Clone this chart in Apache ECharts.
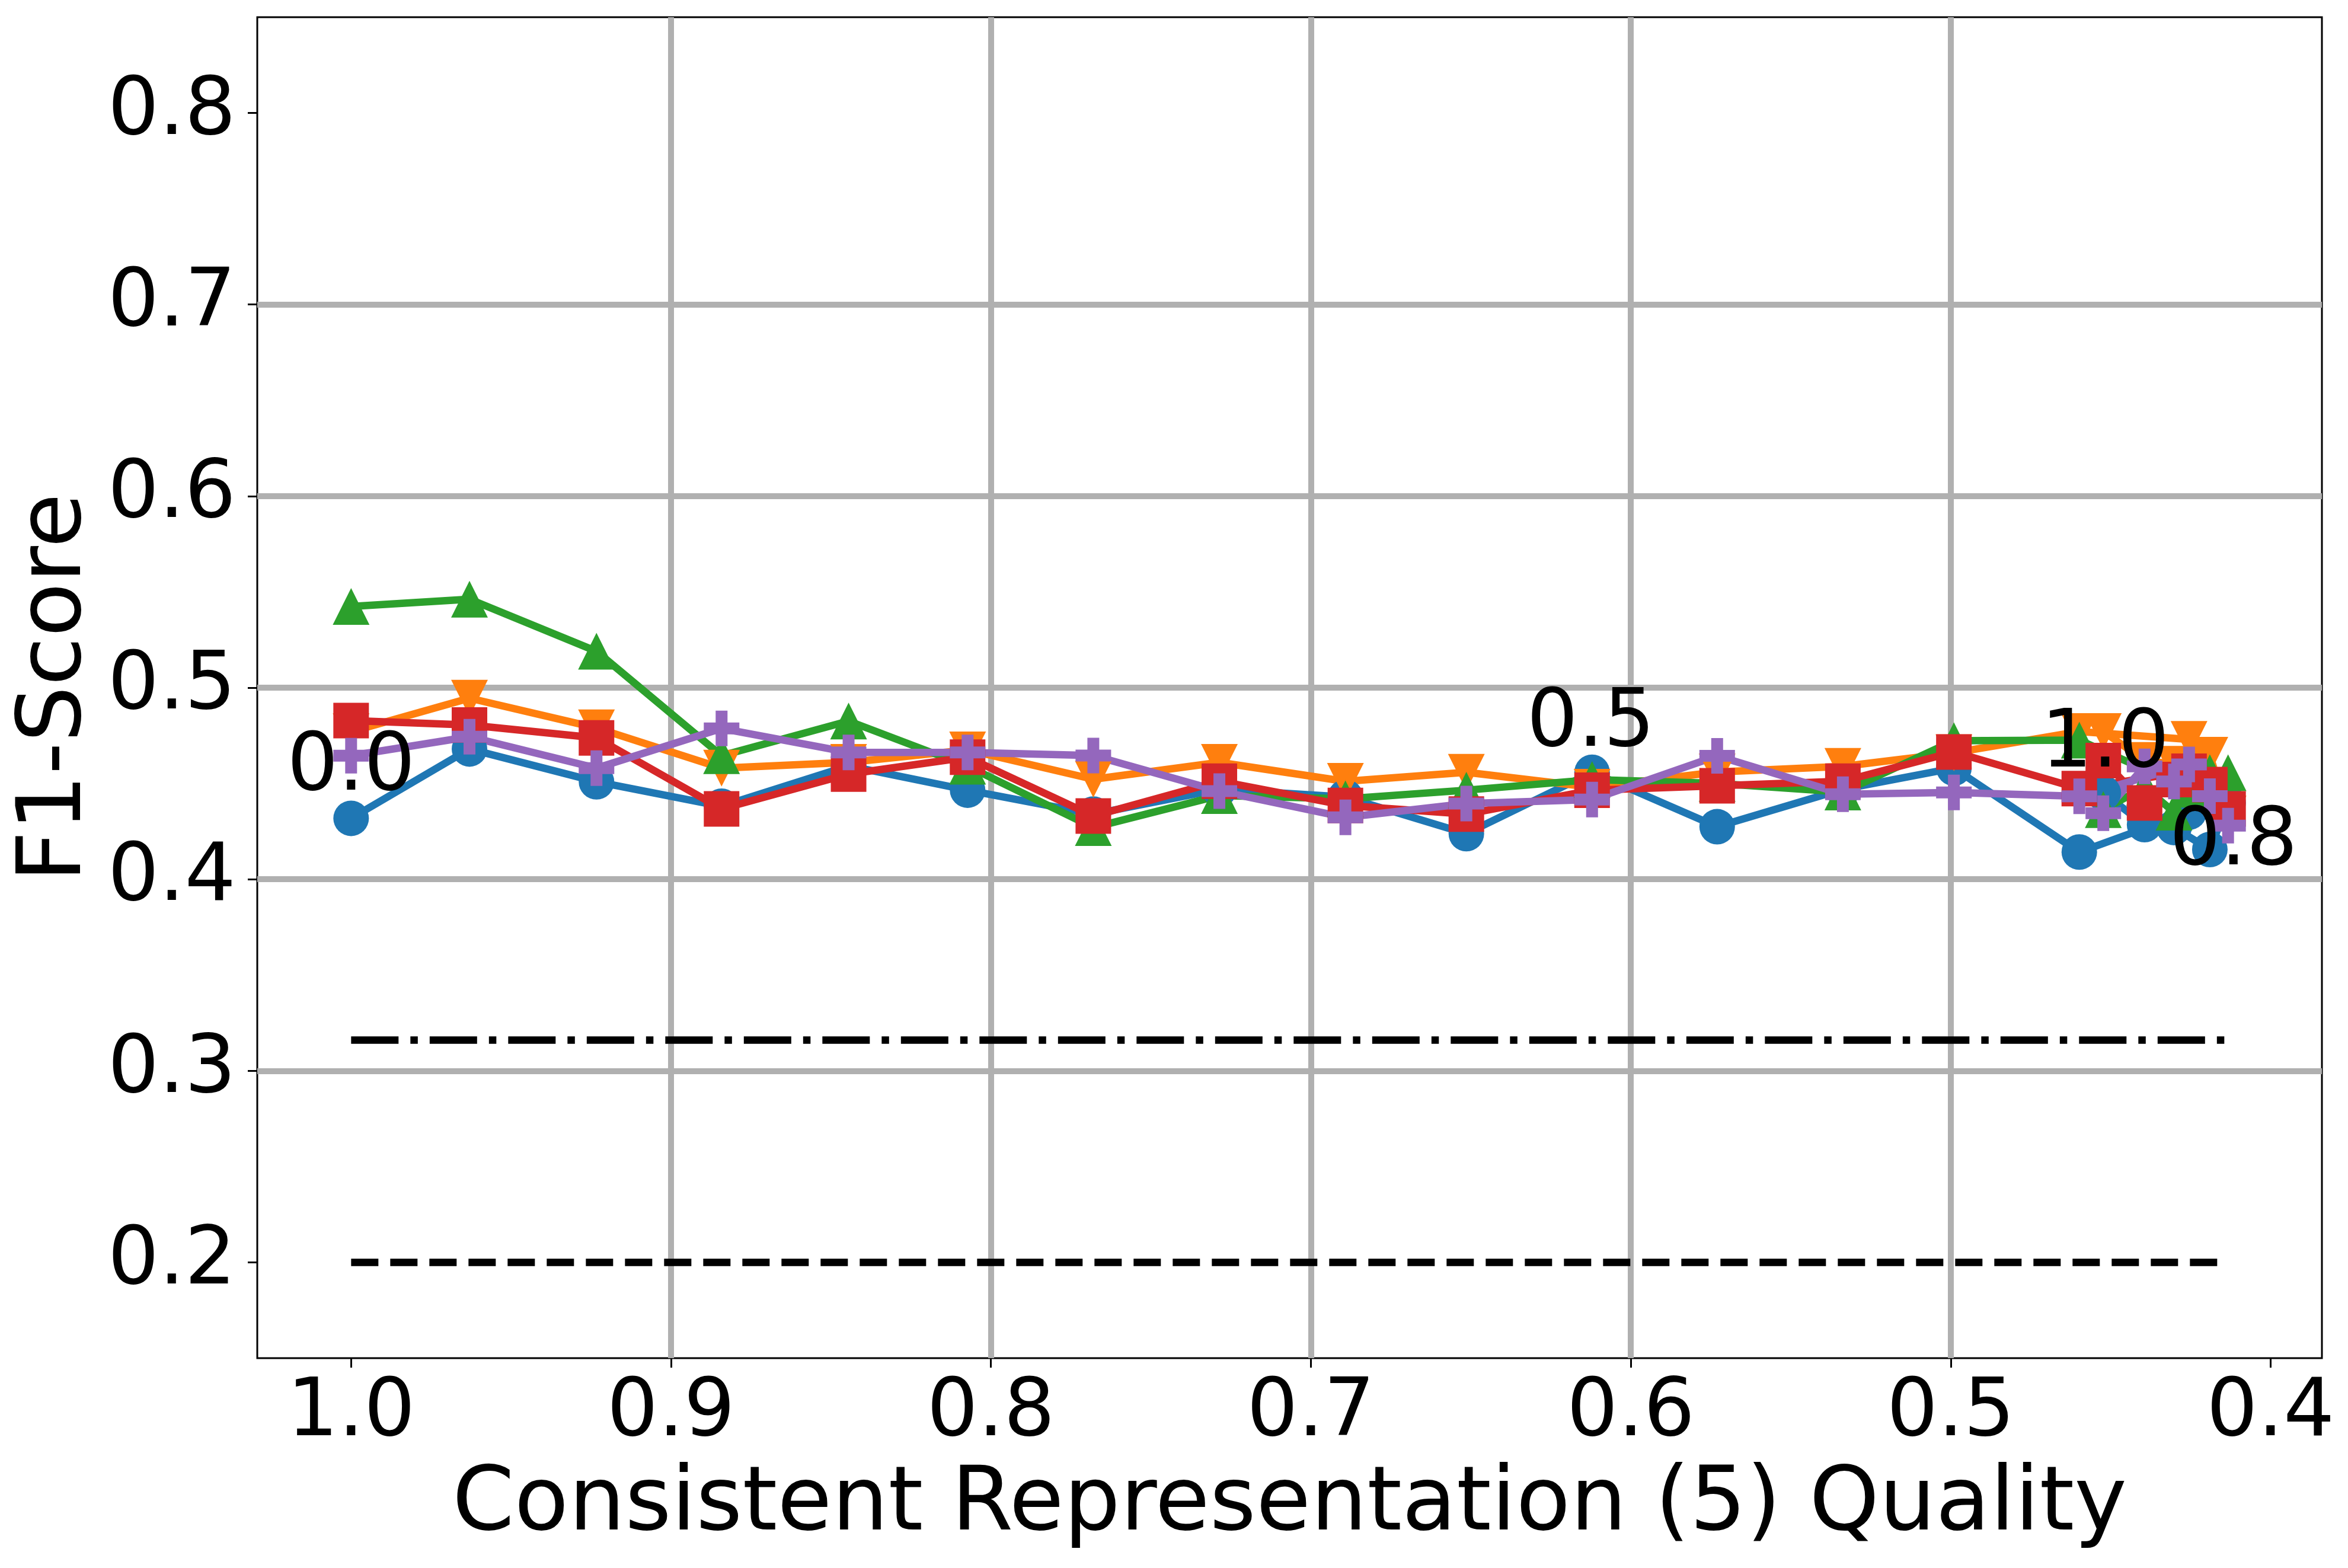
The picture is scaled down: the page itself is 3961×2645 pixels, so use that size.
<!DOCTYPE html>
<html><head><meta charset="utf-8">
<script src="https://cdn.jsdelivr.net/npm/echarts@6/dist/echarts.min.js"></script>
<style>html,body{margin:0;padding:0;background:#fff}#c{width:3961px;height:2645px}</style>
</head><body><div id="c"></div>
<script>
// x: Consistent Representation (5) Quality, in pollution order
const quality = [1.0, 0.9630, 0.9233, 0.8842, 0.8445, 0.8073, 0.7680, 0.7286, 0.6892, 0.6514,
                 0.6121, 0.5730, 0.5337, 0.4990, 0.4598, 0.4255, 0.4133, 0.4190, 0.4302, 0.4394, 0.4523];
const f1Blue   = [0.4318, 0.4680, 0.4509, 0.4381, 0.4592, 0.4465, 0.4340, 0.4470, 0.4429, 0.4238,
                  0.4558, 0.4274, 0.4470, 0.4580, 0.4142, 0.4350, 0.4398, 0.4155, 0.4270, 0.4285, 0.4450];
const f1Orange = [0.4770, 0.4945, 0.4790, 0.4580, 0.4610, 0.4675, 0.4522, 0.4610, 0.4511, 0.4558,
                  0.4480, 0.4560, 0.4589, 0.4660, 0.4771, 0.4730, 0.4340, 0.4647, 0.4600, 0.4620, 0.4771];
const f1Green  = [0.5424, 0.5462, 0.5190, 0.4645, 0.4826, 0.4590, 0.4270, 0.4437, 0.4420, 0.4465,
                  0.4520, 0.4500, 0.4455, 0.4723, 0.4726, 0.4470, 0.4556, 0.4556, 0.4350, 0.4480, 0.4363];
const f1Red    = [0.4828, 0.4805, 0.4738, 0.4367, 0.4549, 0.4637, 0.4330, 0.4512, 0.4385, 0.4340,
                  0.4465, 0.4488, 0.4512, 0.4664, 0.4473, 0.4564, 0.4367, 0.4494, 0.4520, 0.4398, 0.4619];
const f1Purple = [0.4645, 0.4744, 0.4580, 0.4787, 0.4662, 0.4662, 0.4646, 0.4460, 0.4323, 0.4395,
                  0.4416, 0.4644, 0.4444, 0.4453, 0.4433, 0.4599, 0.4280, 0.4434, 0.4510, 0.4589, 0.4345];
const refDashed = 0.2;
const refDashDot = 0.316;
const xTicks = [0.4, 0.5, 0.6, 0.7, 0.8, 0.9, 1.0];
const yTicks = [0.2, 0.3, 0.4, 0.5, 0.6, 0.7, 0.8];
const annotationText = ['0.0', '0.5', '1.0', '0.8'];
const annotationX = [1.0, 0.6125, 0.4517, 0.4116];
const annotationY = [0.4578, 0.4805, 0.4697, 0.4186];

const FONT = 'DejaVu Sans';
const xLo = Math.min(...quality), xHi = Math.max(...quality);
const pad = (xHi - xLo) * 0.05;
const PLUS = 'path://M1,0H2V1H3V2H2V3H1V2H0V1H1Z';

function mk(name, vals, color, symbol, size, rot) {
  return {
    type: 'line', name: name,
    data: quality.map((x, i) => [x, vals[i]]),
    symbol: symbol, symbolSize: size, symbolRotate: rot || 0, showAllSymbol: true,
    lineStyle: { color: color, width: 12.5, cap: 'round', join: 'round' },
    itemStyle: { color: color, borderWidth: 0 },
    emphasis: { disabled: true }, silent: true
  };
}
function ref(vals, dash) {
  return {
    type: 'line', symbol: 'none', silent: true,
    data: [[xHi, vals], [xLo, vals]],
    lineStyle: { color: '#000', width: 12.5, type: dash, cap: 'butt' }
  };
}
const fmt = v => Math.abs(v * 10 - Math.round(v * 10)) < 1e-6 ? v.toFixed(1) : '';

const chart = echarts.init(document.getElementById('c'), null, { renderer: 'canvas' });
chart.setOption({
  animation: false,
  backgroundColor: '#fff',
  grid: { left: 434, right: 44, top: 29, bottom: 354, show: true, borderColor: '#000', borderWidth: 3, containLabel: false },
  xAxis: {
    type: 'value', inverse: true, min: xLo - pad, max: xHi + pad,
    name: 'Consistent Representation (5) Quality', nameLocation: 'middle', nameGap: 175,
    nameTextStyle: { fontFamily: FONT, fontSize: 150, color: '#000' },
    axisLine: { show: false },
    axisTick: { show: true, length: 16, lineStyle: { color: '#000', width: 3 }, customValues: xTicks },
    axisLabel: { fontFamily: FONT, fontSize: 136, color: '#000', margin: 27, formatter: fmt, customValues: xTicks },
    splitLine: { show: true, showMinLine: false, showMaxLine: false, lineStyle: { color: '#b0b0b0', width: 10 } }
  },
  yAxis: {
    type: 'value', min: 0.15, max: 0.85,
    name: 'F1-Score', nameLocation: 'middle', nameGap: 226,
    nameTextStyle: { fontFamily: FONT, fontSize: 150, color: '#000' },
    axisLine: { show: false },
    axisTick: { show: true, length: 16, lineStyle: { color: '#000', width: 3 }, customValues: yTicks },
    axisLabel: { fontFamily: FONT, fontSize: 136, color: '#000', margin: 36, formatter: fmt, customValues: yTicks },
    splitLine: { show: true, showMinLine: false, showMaxLine: false, lineStyle: { color: '#b0b0b0', width: 10 } }
  },
  series: [
    mk('S1', f1Blue, '#1f77b4', 'circle', 60),
    mk('S2', f1Orange, '#ff7f0e', 'triangle', 62, 180),
    mk('S3', f1Green, '#2ca02c', 'triangle', 62),
    mk('S4', f1Red, '#d62728', 'rect', 60),
    mk('S5', f1Purple, '#9467bd', PLUS, 60),
    ref(refDashDot, [80, 20, 12.5, 20]),
    ref(refDashed, [46, 20]),
    {
      type: 'scatter', silent: true, z: 10, symbolSize: 2,
      itemStyle: { color: 'rgba(0,0,0,0)', opacity: 1 },
      data: annotationX.map((x, i) => ({ value: [x, annotationY[i]], label: { formatter: annotationText[i] } })),
      label: { show: true, position: 'inside', color: '#000', opacity: 1, textBorderWidth: 0,
               fontFamily: FONT, fontSize: 136, offset: [0, 33] },
      labelLayout: { hideOverlap: false }
    }
  ]
});
</script></body></html>
